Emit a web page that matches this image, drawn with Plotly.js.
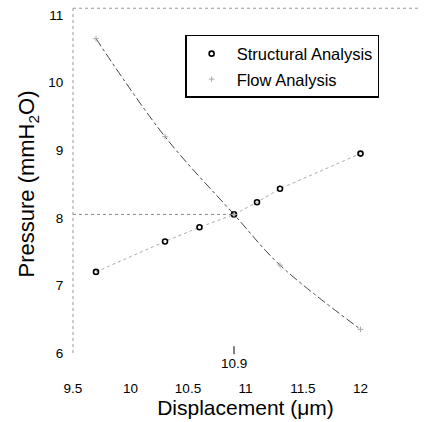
<!DOCTYPE html>
<html>
<head>
<meta charset="utf-8">
<script src="https://cdn.plot.ly/plotly-3.0.1.min.js"></script>
<style>html,body{margin:0;padding:0;background:#fff;}#chart{width:429px;height:422px;}</style>
</head>
<body>
<div id="chart"></div>
<script>
// Data
var structX = [9.7, 10.3, 10.6, 10.9, 11.1, 11.3, 12.0];
var structY = [7.2, 7.65, 7.86, 8.05, 8.23, 8.43, 8.95];
var flowX = [9.7, 10.3, 10.9, 11.3, 12.0];
var flowY = [10.65, 9.2, 8.05, 7.3, 6.35];
var intersectX = 10.9;
var intersectY = 8.05;
var xTicks = [9.5, 10, 10.5, 11, 11.5, 12, 12.5];
var yTicks = [6, 7, 8, 9, 10, 11];
var xRange = [9.5, 12.5];
var yRange = [6, 11];

var font = "Liberation Sans, Arial, sans-serif";

var traces = [
  { x: structX, y: structY, mode: 'lines', line: {color: '#aaa', width: 1, dash: 'dot'},
    showlegend: false, hoverinfo: 'skip' },
  { x: flowX, y: flowY, mode: 'lines', line: {color: '#444', width: 1, dash: 'dashdot', shape: 'spline'},
    showlegend: false, hoverinfo: 'skip' },
  { x: [xRange[0], intersectX], y: [intersectY, intersectY], mode: 'lines',
    line: {color: '#888', width: 1, dash: 'dot'}, showlegend: false, hoverinfo: 'skip' },
  { x: structX, y: structY, mode: 'markers', name: 'Structural Analysis', legendgroup: 'a',
    marker: {symbol: 'circle-open', size: 5, color: '#000', line: {width: 1.6, color: '#000'}} },
  { x: flowX, y: flowY, mode: 'markers', name: 'Flow Analysis', legendgroup: 'b',
    marker: {symbol: 'cross-thin-open', size: 4, color: '#aaa', line: {width: 1, color: '#aaa'}} }
];

var layout = {
  width: 429, height: 422,
  margin: {l: 73, r: 11, t: 15, b: 69},
  paper_bgcolor: '#fff', plot_bgcolor: '#fff',
  font: {family: font, color: '#000', size: 13.5},
  showlegend: true,
  legend: {
    x: 0.325, y: 0.941, xanchor: 'left', yanchor: 'top',
    bgcolor: '#fff', bordercolor: '#000', borderwidth: 1.5,
    font: {family: font, size: 16.5, color: '#000'},
    tracegroupgap: 1, itemwidth: 40
  },
  xaxis: {
    range: xRange, tickvals: xTicks, ticktext: xTicks.map(String),
    showgrid: false, zeroline: false, showline: false,
    ticks: 'outside', ticklen: 23, tickcolor: 'rgba(0,0,0,0)',
    tickfont: {family: font, size: 13.5, color: '#000'},
    title: {text: 'Displacement (μm)', font: {family: font, size: 21, color: '#000'}, standoff: 4}
  },
  yaxis: {
    range: yRange, tickvals: yTicks, ticktext: yTicks.map(String),
    showgrid: false, zeroline: false, showline: false,
    ticks: 'outside', ticklen: 6, tickcolor: 'rgba(0,0,0,0)',
    tickfont: {family: font, size: 13.5, color: '#000'},
    title: {text: 'Pressure (mmH<sub>2</sub>O)', font: {family: font, size: 22, color: '#000'}, standoff: 7}
  },
  shapes: [
    {type: 'line', xref: 'paper', yref: 'paper', x0: 0, x1: 0, y0: 0, y1: 1.02,
     line: {color: '#999', width: 1, dash: 'dot'}},
    {type: 'line', xref: 'paper', yref: 'paper', x0: 0, x1: 1, y0: 1.02, y1: 1.02,
     line: {color: '#999', width: 1, dash: 'dot'}}
  ],
  annotations: [
    {x: intersectX, y: yRange[0] + 0.1, xref: 'x', yref: 'y', text: String(intersectX),
     showarrow: true, arrowhead: 0, arrowwidth: 1, arrowcolor: '#000', ax: 0, ay: 17,
     font: {family: font, size: 13.5, color: '#000'}}
  ]
};

Plotly.newPlot('chart', traces, layout, {displayModeBar: false, staticPlot: true});
</script>
</body>
</html>
